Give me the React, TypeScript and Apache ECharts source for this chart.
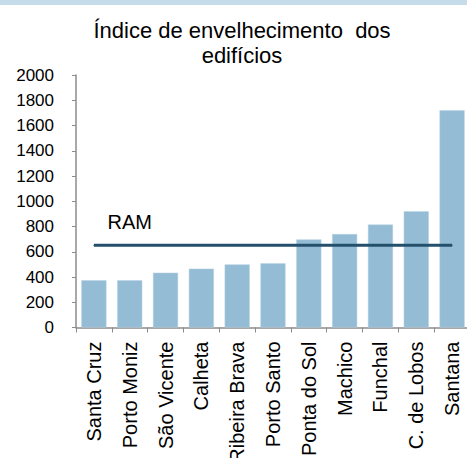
import React, { useEffect, useRef } from "react";
import * as echarts from "echarts";

const categories = [
  "Santa Cruz",
  "Porto Moniz",
  "São Vicente",
  "Calheta",
  "Ribeira Brava",
  "Porto Santo",
  "Ponta do Sol",
  "Machico",
  "Funchal",
  "C. de Lobos",
  "Santana",
];
const indexValues = [374, 374, 434, 466, 500, 508, 698, 740, 815, 921, 1720];
const ramValue = 651;
const ramLabel = "RAM";
const titleText = "Índice de envelhecimento  dos\nedifícios";

export default function App() {
  const ref = useRef<HTMLDivElement>(null);
  useEffect(() => {
    if (!ref.current) return;
    const chart = echarts.init(ref.current, null, { renderer: "svg" });
    const font = "'Liberation Sans', Arial, sans-serif";
    chart.setOption({
      animation: false,
      backgroundColor: "#ffffff",
      textStyle: { fontFamily: font },
      title: {
        text: titleText,
        left: 237,
        textAlign: "center",
        top: 13,
        textStyle: {
          fontFamily: font,
          fontSize: 22,
          fontWeight: "normal",
          color: "#000",
          lineHeight: 25,
        },
      },
      graphic: [
        {
          type: "rect",
          shape: { x: 0, y: 0, width: 467, height: 5 },
          style: { fill: "#c6dcea" },
        },
      ],
      grid: {
        left: 76,
        width: 394,
        top: 75,
        bottom: 130.5,
        containLabel: false,
        outerBoundsMode: "none",
      },
      xAxis: {
        type: "category",
        data: categories,
        boundaryGap: true,
        axisLine: { lineStyle: { color: "#8c8c8c", width: 1.5 } },
        axisTick: { show: true, length: 5, lineStyle: { color: "#8c8c8c" } },
        axisLabel: {
          rotate: 90,
          interval: 0,
          margin: 14,
          fontSize: 20,
          color: "#000",
          fontFamily: font,
        },
      },
      yAxis: {
        type: "value",
        min: 0,
        max: 2000,
        interval: 200,
        splitLine: { show: false },
        axisLine: { show: true, lineStyle: { color: "#8c8c8c", width: 1.5 } },
        axisTick: { show: true, length: 4, lineStyle: { color: "#8c8c8c" } },
        axisLabel: {
          fontSize: 17,
          color: "#000",
          margin: 22,
          fontFamily: font,
          formatter: (v: number) => String(v),
        },
      },
      series: [
        {
          type: "bar",
          data: indexValues,
          barCategoryGap: "30%",
          itemStyle: { color: "#94bcd5", borderColor: "#b7d3e4", borderWidth: 0.5 },
        },
        {
          type: "line",
          data: indexValues.map((_, i) => ({
            value: ramValue,
            label:
              i === 1
                ? {
                    show: true,
                    formatter: ramLabel,
                    position: "top",
                    distance: 13,
                    fontSize: 20,
                    color: "#000",
                    fontFamily: font,
                  }
                : { show: false },
          })),
          symbol: "circle",
          symbolSize: 1,
          showSymbol: true,
          itemStyle: { color: "#24506c" },
          lineStyle: { color: "#24506c", width: 3 },
          z: 5,
        },
      ],
    });
    return () => chart.dispose();
  }, []);
  return (
    <div
      ref={ref}
      style={{ position: "absolute", left: 0, top: 0, width: 467, height: 458 }}
    />
  );
}
